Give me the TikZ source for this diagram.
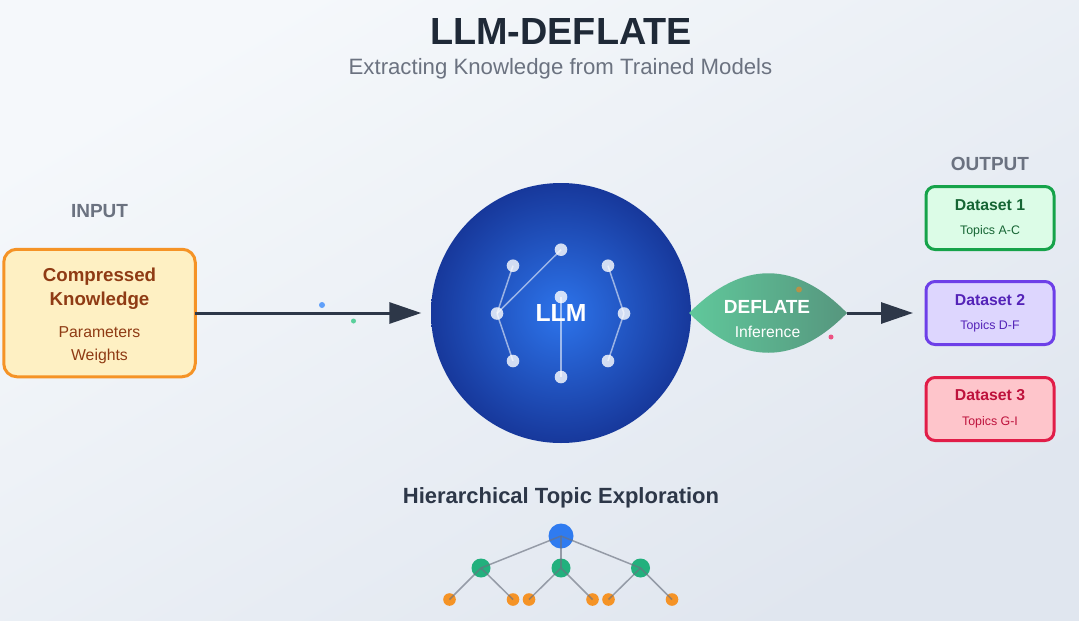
\documentclass[tikz,border=0pt]{standalone}
\usepackage{fontspec}
\setmainfont{Liberation Sans}
\usetikzlibrary{arrows.meta}
\definecolor{inkdark}{HTML}{1F2937}
\definecolor{inkgrey}{HTML}{6B7280}
\definecolor{inkslate}{HTML}{2D3748}
\definecolor{paperlight}{HTML}{F5F8FB}
\definecolor{paperdark}{HTML}{E0E6EF}
\definecolor{inputstroke}{HTML}{F59326}
\definecolor{inputfill}{HTML}{FEF0C3}
\definecolor{inputtext}{HTML}{8F3B14}
\definecolor{greenstroke}{HTML}{16A34A}
\definecolor{greenfill}{HTML}{DCFCE7}
\definecolor{greentext}{HTML}{166534}
\definecolor{purplestroke}{HTML}{6D3FE8}
\definecolor{purplefill}{HTML}{DDD6FE}
\definecolor{purpletext}{HTML}{5423B8}
\definecolor{redstroke}{HTML}{E11D48}
\definecolor{redfill}{HTML}{FEC5CB}
\definecolor{redtext}{HTML}{BE123C}
\definecolor{llminner}{HTML}{2D74EB}
\definecolor{llmouter}{HTML}{17389B}
\definecolor{leafleft}{HTML}{60C89B}
\definecolor{leafright}{HTML}{56967E}
\definecolor{rootblue}{HTML}{2F7BF0}
\definecolor{midgreen}{HTML}{22B07D}
\definecolor{dotblue}{HTML}{60A0FA}
\definecolor{dotgreen}{HTML}{5AD09B}
\definecolor{dotorange}{HTML}{B69248}
\definecolor{dotpink}{HTML}{EC5282}
\pgfdeclareradialshading{llmglow}{\pgfpoint{0bp}{0bp}}{%
  color(0bp)=(llminner);
  color(25bp)=(llmouter);
  color(100bp)=(llmouter)}
\newcommand{\fsize}[1]{\fontsize{#1}{#1}\selectfont}
\tikzset{
  txt/.style={anchor=base, inner sep=0pt},
  databox/.style={draw, line width=3pt, rounded corners=9pt, minimum width=128pt, minimum height=63pt, inner sep=0pt, outer sep=0pt},
  netnode/.style={circle, fill=white, fill opacity=0.8, minimum size=12.6pt, inner sep=0pt},
  netline/.style={color=white, opacity=0.55, line width=1.5pt},
  treeline/.style={color=inkgrey, opacity=0.65, line width=1.5pt},
  rootnode/.style={circle, fill=rootblue, minimum size=25pt, inner sep=0pt},
  midnode/.style={circle, fill=midgreen, minimum size=19pt, inner sep=0pt},
  leafnode/.style={circle, fill=inputstroke, minimum size=12.6pt, inner sep=0pt},
  flowarrow/.style={color=inkslate, line width=3pt, -{Triangle[length=32pt,width=21pt]}},
}
\begin{document}
\begin{tikzpicture}[x=1pt, y=-1pt]
\useasboundingbox (0,0) rectangle (1079,621);
\shade[top color=paperlight, bottom color=paperdark, shading angle=30] (0,0) rectangle (1079,621);
% titles
\node[txt, color=inkdark, font=\bfseries\fsize{37.8}] (title) at (561,44) {LLM-DEFLATE};
\node[txt, color=inkgrey, font=\fsize{22.2}] (subtitle) at (560.5,74) {Extracting Knowledge from Trained Models};
% input
\node[txt, color=inkgrey, font=\bfseries\fsize{19}] (inputlabel) at (99.5,217.3) {INPUT};
\node[draw=inputstroke, fill=inputfill, line width=3pt, rounded corners=13pt, minimum width=191.5pt, minimum height=127.5pt, inner sep=0pt, outer sep=0pt] (inputbox) at (99.5,313) {};
\node[txt, color=inputtext, font=\bfseries\fsize{18.7}] (compressed) at (99.5,281.7) {Compressed};
\node[txt, color=inputtext, font=\bfseries\fsize{18.7}] (knowledge) at (99.5,305) {Knowledge};
\node[txt, color=inputtext, font=\fsize{15.8}] (parameters) at (99.5,337) {Parameters};
\node[txt, color=inputtext, font=\fsize{15.8}] (weights) at (99.5,360.7) {Weights};
% model
\node[circle, shading=llmglow, minimum size=260pt, inner sep=0pt] (llm) at (561,313) {};
\node[netnode] (n1) at (513,265.7) {};
\node[netnode] (n2) at (561,249.7) {};
\node[netnode] (n3) at (497,313.5) {};
\node[netnode] (n4) at (561,297) {};
\node[netnode] (n5) at (513,361) {};
\node[netnode] (n6) at (561,377) {};
\node[netnode] (n7) at (608,265.7) {};
\node[netnode] (n8) at (624,313.5) {};
\node[netnode] (n9) at (608,361) {};
\draw[netline] (n3.center) -- (n1.center);
\draw[netline] (n3.center) -- (n2.center);
\draw[netline] (n3.center) -- (n5.center);
\draw[netline] (n4.center) -- (n6.center);
\draw[netline] (n7.center) -- (n8.center);
\draw[netline] (n8.center) -- (n9.center);
\node[txt, color=white, font=\bfseries\fsize{24.7}] (llmlabel) at (561,321.7) {LLM};
% deflate leaf
\coordinate (leafin) at (689,313);
\coordinate (leafout) at (847,313);
\shade[left color=leafleft, right color=leafright] (leafin) .. controls (742,260) and (795,260) .. (leafout) .. controls (795,366) and (742,366) .. (leafin);
\node[txt, color=white, font=\bfseries\fsize{19}] (deflate) at (767,313.3) {DEFLATE};
\node[txt, color=white, font=\fsize{15.7}] (inference) at (767.5,337.2) {Inference};
% outputs
\node[txt, color=inkgrey, font=\bfseries\fsize{19}] (outputlabel) at (990,170.7) {OUTPUT};
\node[databox, draw=greenstroke, fill=greenfill] (dataset1) at (990,218) {};
\node[databox, draw=purplestroke, fill=purplefill] (dataset2) at (990,313) {};
\node[databox, draw=redstroke, fill=redfill] (dataset3) at (990,409) {};
\node[txt, color=greentext, font=\bfseries\fsize{15.8}] (name1) at (990,210.7) {Dataset 1};
\node[txt, color=greentext, font=\fsize{12.4}] (topics1) at (990,234) {Topics A-C};
\node[txt, color=purpletext, font=\bfseries\fsize{15.8}] (name2) at (990,305.7) {Dataset 2};
\node[txt, color=purpletext, font=\fsize{12.4}] (topics2) at (990,329.3) {Topics D-F};
\node[txt, color=redtext, font=\bfseries\fsize{15.8}] (name3) at (990,400.7) {Dataset 3};
\node[txt, color=redtext, font=\fsize{12.4}] (topics3) at (990,425) {Topics G-I};
% arrows
\draw[flowarrow, shorten >=9.5pt] (inputbox.east) -- (llm.west);
\draw[flowarrow, shorten >=13pt] (leafout) -- (dataset2.west);
% particles
\node[circle, fill=dotblue, minimum size=6pt, inner sep=0pt] (particle1) at (322,305) {};
\node[circle, fill=dotgreen, minimum size=5pt, inner sep=0pt] (particle2) at (353.5,321) {};
\node[circle, fill=dotorange, minimum size=6pt, inner sep=0pt] (particle3) at (799,289.5) {};
\node[circle, fill=dotpink, minimum size=5pt, inner sep=0pt] (particle4) at (831,337) {};
% hierarchy
\node[txt, color=inkslate, font=\bfseries\fsize{22}] (treetitle) at (561,503.3) {Hierarchical Topic Exploration};
\node[rootnode] (root) at (561,536) {};
\node[midnode] (m1) at (481,568) {};
\node[midnode] (m2) at (561,568) {};
\node[midnode] (m3) at (640.5,568) {};
\node[leafnode] (l1) at (449.5,599.5) {};
\node[leafnode] (l2) at (513,599.5) {};
\node[leafnode] (l3) at (529,599.5) {};
\node[leafnode] (l4) at (592.5,599.5) {};
\node[leafnode] (l5) at (608.5,599.5) {};
\node[leafnode] (l6) at (672,599.5) {};
\draw[treeline] (root.center) -- (m1.center);
\draw[treeline] (root.center) -- (m2.center);
\draw[treeline] (root.center) -- (m3.center);
\draw[treeline] (m1.center) -- (l1.center);
\draw[treeline] (m1.center) -- (l2.center);
\draw[treeline] (m2.center) -- (l3.center);
\draw[treeline] (m2.center) -- (l4.center);
\draw[treeline] (m3.center) -- (l5.center);
\draw[treeline] (m3.center) -- (l6.center);
\end{tikzpicture}
\end{document}
